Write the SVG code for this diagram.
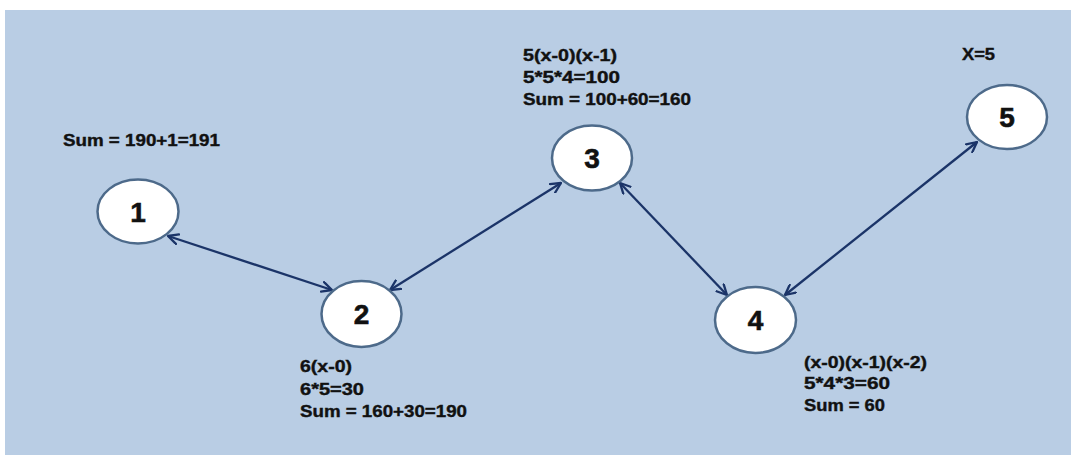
<svg xmlns="http://www.w3.org/2000/svg" width="1071" height="455" viewBox="0 0 1071 455">
  <style>
    .node ellipse { fill: #ffffff; stroke: #4d6a8a; stroke-width: 2.5; }
    .node .num { font-family: "Liberation Sans", Arial, sans-serif; font-weight: bold; font-size: 28px; fill: #111111; stroke: #111111; stroke-width: 0.6; text-anchor: middle; }
    .lbl { font-family: "Liberation Sans", Arial, sans-serif; font-weight: bold; font-size: 17px; fill: #111111; stroke: #111111; stroke-width: 0.4; }
    .edge { stroke: #1b3468; stroke-width: 2.3; fill: none; marker-start: url(#arr); marker-end: url(#arr); }
  </style>
  <defs>
    <marker id="arr" viewBox="0 0 12 12" refX="11" refY="6" markerWidth="12" markerHeight="12" markerUnits="userSpaceOnUse" orient="auto-start-reverse">
      <path d="M1,1 L11,6 L1,11" fill="none" stroke="#1b3468" stroke-width="2.3" stroke-linecap="round" stroke-linejoin="round"/>
    </marker>
  </defs>

  <!-- page and panel background -->
  <rect x="0" y="0" width="1071" height="455" fill="#ffffff"/>
  <rect x="5" y="10" width="1066" height="445" fill="#b9cde4"/>

  <g id="connectors">
    <line class="edge" x1="168" y1="236" x2="332" y2="290"/>
    <line class="edge" x1="390" y1="290" x2="561" y2="183"/>
    <line class="edge" x1="620" y1="183" x2="727" y2="295"/>
    <line class="edge" x1="785" y1="295" x2="977" y2="142"/>
  </g>

  <g id="node1" class="node">
    <ellipse cx="138" cy="211.5" rx="40.5" ry="32"/>
    <text class="num" x="138" y="222">1</text>
  </g>
  <g id="node2" class="node">
    <ellipse cx="361.5" cy="314" rx="40" ry="33"/>
    <text class="num" x="361.5" y="324">2</text>
  </g>
  <g id="node3" class="node">
    <ellipse cx="592" cy="158" rx="40" ry="32.5"/>
    <text class="num" x="592" y="168">3</text>
  </g>
  <g id="node4" class="node">
    <ellipse cx="755.5" cy="320" rx="40.5" ry="33"/>
    <text class="num" x="755.5" y="330">4</text>
  </g>
  <g id="node5" class="node">
    <ellipse cx="1007" cy="117" rx="40" ry="32"/>
    <text class="num" x="1007" y="127">5</text>
  </g>

  <g id="labels">
    <text class="lbl" x="63" y="146" textLength="157" lengthAdjust="spacingAndGlyphs">Sum = 190+1=191</text>

    <text class="lbl" x="300" y="372" textLength="52" lengthAdjust="spacingAndGlyphs">6(x-0)</text>
    <text class="lbl" x="300" y="395" textLength="64" lengthAdjust="spacingAndGlyphs">6*5=30</text>
    <text class="lbl" x="300" y="417" textLength="167" lengthAdjust="spacingAndGlyphs">Sum = 160+30=190</text>

    <text class="lbl" x="523" y="61" textLength="94" lengthAdjust="spacingAndGlyphs">5(x-0)(x-1)</text>
    <text class="lbl" x="523" y="83" textLength="97" lengthAdjust="spacingAndGlyphs">5*5*4=100</text>
    <text class="lbl" x="523" y="105" textLength="168" lengthAdjust="spacingAndGlyphs">Sum = 100+60=160</text>

    <text class="lbl" x="804" y="368" textLength="123" lengthAdjust="spacingAndGlyphs">(x-0)(x-1)(x-2)</text>
    <text class="lbl" x="804" y="389" textLength="86" lengthAdjust="spacingAndGlyphs">5*4*3=60</text>
    <text class="lbl" x="804" y="411" textLength="81" lengthAdjust="spacingAndGlyphs">Sum = 60</text>

    <text class="lbl" x="962" y="60" textLength="33" lengthAdjust="spacingAndGlyphs">X=5</text>
  </g>
</svg>
